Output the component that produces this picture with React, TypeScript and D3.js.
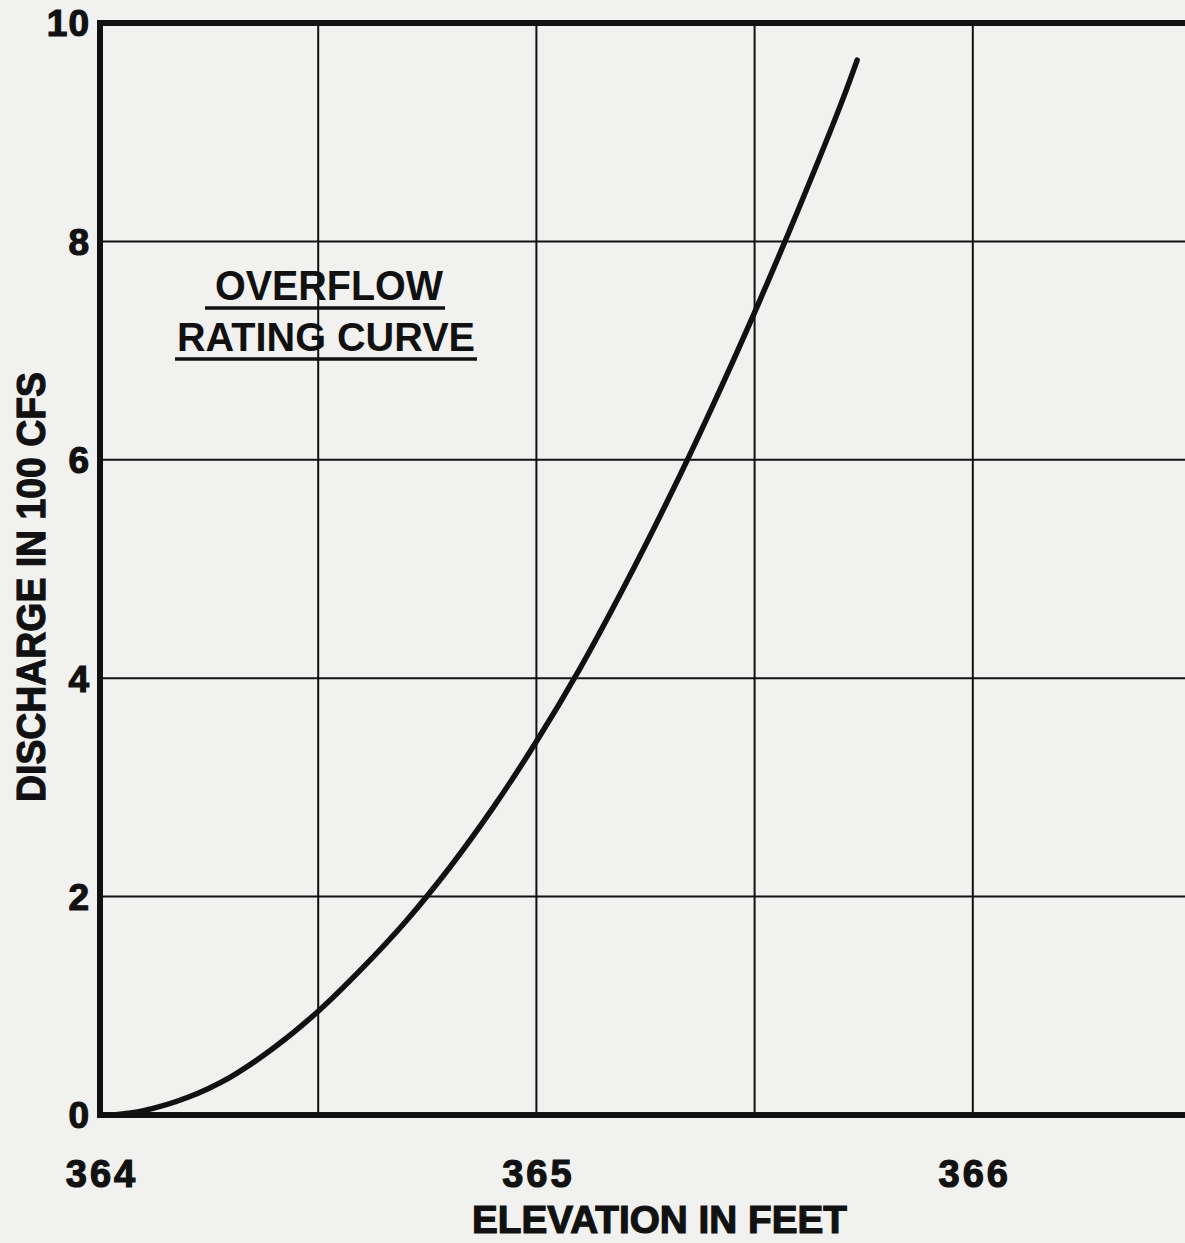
import React from "react";
import * as d3 from "d3";

const elevation = [364.03, 364.1, 364.2, 364.3, 364.4, 364.5, 364.6, 364.7, 364.8, 364.9, 365.0, 365.1, 365.2, 365.3, 365.4, 365.5, 365.6, 365.7, 365.735];
const discharge = [0, 0.04, 0.16, 0.35, 0.62, 0.95, 1.34, 1.77, 2.26, 2.81, 3.42, 4.09, 4.83, 5.62, 6.46, 7.35, 8.29, 9.28, 9.66];

const xGrid = [364, 364.5, 365, 365.5, 366, 366.5];
const xTickLabels = [364, 365, 366];
const yTicks = [0, 2, 4, 6, 8, 10];

const titleLines = ["OVERFLOW", "RATING CURVE"];
const xAxisTitle = "ELEVATION IN FEET";
const yAxisTitle = "DISCHARGE IN 100 CFS";

const W = 1185;
const H = 1243;
const INK = "#111";
const FONT = "'Liberation Sans', Arial, sans-serif";

export default function App() {
  const x = d3.scaleLinear().domain([364, 366.5]).range([100, 1191]);
  const y = d3.scaleLinear().domain([0, 10]).range([1115, 23]);

  const pts: [number, number][] = elevation.map((e, i) => [e, discharge[i]]);
  const line = d3
    .line<[number, number]>()
    .x((d) => x(d[0]))
    .y((d) => y(d[1]))
    .curve(d3.curveCatmullRom.alpha(0.5));

  const boldText = { stroke: INK, strokeWidth: 1.2, paintOrder: "stroke" as const };

  return (
    <svg
      width={W}
      height={H}
      style={{ position: "absolute", left: 0, top: 0, display: "block", background: "#f1f1f0" }}
    >
      <rect x={0} y={0} width={W} height={H} fill="#f1f1f0" />
      {/* grid */}
      {xGrid.slice(1).map((v) => (
        <line key={"vx" + v} x1={x(v)} x2={x(v)} y1={y(10)} y2={y(0)} stroke={INK} strokeWidth={2} />
      ))}
      {yTicks.slice(1, -1).map((v) => (
        <line key={"hy" + v} x1={x(364)} x2={W + 10} y1={y(v)} y2={y(v)} stroke={INK} strokeWidth={2} />
      ))}
      {/* frame */}
      <line x1={x(364) - 3} x2={W + 10} y1={y(10)} y2={y(10)} stroke={INK} strokeWidth={6} />
      <line x1={x(364) - 3} x2={W + 10} y1={y(0)} y2={y(0)} stroke={INK} strokeWidth={6} />
      <line x1={x(364)} x2={x(364)} y1={y(10) - 3} y2={y(0) + 3} stroke={INK} strokeWidth={6} />

      {/* curve */}
      <path d={line(pts) || ""} fill="none" stroke={INK} strokeWidth={5.5} strokeLinecap="round" />

      {/* y tick labels */}
      {yTicks.map((v) => (
        <text
          key={"yt" + v}
          x={90}
          y={y(v)}
          dy="0.36em"
          textAnchor="end"
          fontFamily={FONT}
          fontWeight="bold"
          fontSize={37}
          letterSpacing={1}
          fill={INK}
          {...boldText}
        >
          {v}
        </text>
      ))}
      {/* x tick labels */}
      {xTickLabels.map((v) => (
        <text
          key={"xt" + v}
          x={x(v) + 2}
          y={1187}
          textAnchor="middle"
          fontFamily={FONT}
          fontWeight="bold"
          fontSize={38}
          letterSpacing={3}
          fill={INK}
          {...boldText}
        >
          {v}
        </text>
      ))}
      {/* x axis title */}
      <text
        x={472}
        y={1233}
        fontFamily={FONT}
        fontWeight="bold"
        fontSize={38}
        textLength={375}
        lengthAdjust="spacingAndGlyphs"
        fill={INK}
        {...boldText}
      >
        {xAxisTitle}
      </text>
      {/* y axis title */}
      <text
        transform="translate(45,802) rotate(-90)"
        x={0}
        y={0}
        fontFamily={FONT}
        fontWeight="bold"
        fontSize={41}
        textLength={430}
        lengthAdjust="spacingAndGlyphs"
        fill={INK}
        {...boldText}
      >
        {yAxisTitle}
      </text>
      {/* title */}
      <text x={215} y={300} fontFamily={FONT} fontWeight="bold" fontSize={43} textLength={228} lengthAdjust="spacingAndGlyphs" fill={INK}>
        {titleLines[0]}
      </text>
      <line x1={205} x2={445} y1={308} y2={308} stroke={INK} strokeWidth={3.5} />
      <text x={177} y={351} fontFamily={FONT} fontWeight="bold" fontSize={41} textLength={298} lengthAdjust="spacingAndGlyphs" fill={INK}>
        {titleLines[1]}
      </text>
      <line x1={175} x2={477} y1={359} y2={359} stroke={INK} strokeWidth={3.5} />
    </svg>
  );
}
